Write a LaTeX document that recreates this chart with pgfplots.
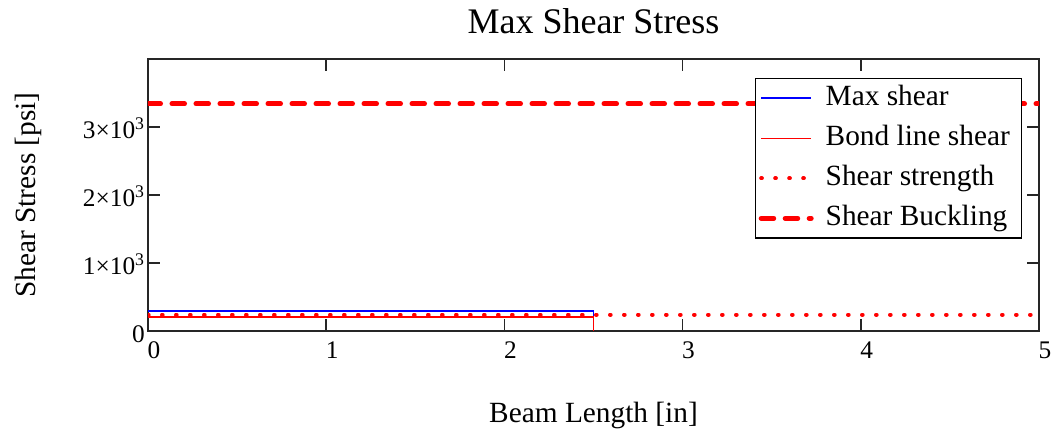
\documentclass[border=0pt]{standalone}
\usepackage{fontspec}
\setmainfont{Liberation Serif}
\usepackage{pgfplots}
\pgfplotsset{compat=1.18}

\begin{document}
\begin{tikzpicture}
\begin{axis}[
    scale only axis, width=668.25pt, height=204pt,
    xmin=0, xmax=5, ymin=0, ymax=4000,
    xtick={0,1,2,3,4,5}, xticklabels={0,1,2,3,4,5},
    ytick={0,1000,2000,3000},
    yticklabels={0,1×10\textsuperscript{3},2×10\textsuperscript{3},3×10\textsuperscript{3}},
    tick align=inside, major tick length=9pt,
    tick style={black!85, line width=1.1pt},
    axis line style={black!85, line width=1.1pt},
    ticklabel style={font=\fontsize{19}{22}\selectfont},
    xticklabel style={anchor=north west, inner sep=0pt, yshift=-8pt, xshift=-0.5pt},
    yticklabel style={anchor=base east, inner sep=0pt, xshift=-2.25pt, yshift=-8.25pt},
    title={Max Shear Stress},
    title style={at={(0.5,1)}, anchor=base, yshift=13pt, font=\fontsize{27}{30}\selectfont},
    xlabel={Beam Length [in]},
    xlabel style={at={(axis description cs:0.5,0)}, anchor=base, yshift=-68.25pt, font=\fontsize{22}{26}\selectfont},
    ylabel={Shear Stress [psi]},
    ylabel style={at={(axis description cs:-0.1257,0.5)}, rotate=0, anchor=base, font=\fontsize{22}{26}\selectfont},
    legend image code/.code={\draw[#1] (0pt,0pt) -- (37.5pt,0pt); \path (46.5pt,0pt);},
    legend cell align=left,
    legend style={at={(0.981,0.930)}, anchor=north east, draw=black, line width=0.9pt,
        inner xsep=2.25pt, inner ysep=5pt, row sep=10.5pt,
        nodes={inner sep=0pt, text height=15pt, text depth=4.5pt},
        font=\fontsize{22}{26}\selectfont},
]
\addplot[blue, line width=1.4pt] coordinates {(0,290) (2.5,290) (2.5,0)};
\addlegendentry{Max shear}
\addplot[red, line width=1.2pt] coordinates {(0,205) (2.5,205) (2.5,0)};
\addlegendentry{Bond line shear\hspace*{6.5pt}}
\addplot[red, line width=3pt, line cap=round, dash pattern=on 0.5pt off 10pt] coordinates {(0,240) (5,240)};
\addlegendentry{Shear strength}
\addplot[red, line width=3.75pt, line cap=round, dash pattern=on 9.4pt off 8.6pt] coordinates {(0,3340) (5,3340)};
\addlegendentry{Shear Buckling}
\end{axis}
\pgfresetboundingbox
\path[use as bounding box] ([xshift=-111pt,yshift=-78.4pt]current axis.south west) rectangle ([xshift=15pt,yshift=44.25pt]current axis.north east);
\end{tikzpicture}
\end{document}
